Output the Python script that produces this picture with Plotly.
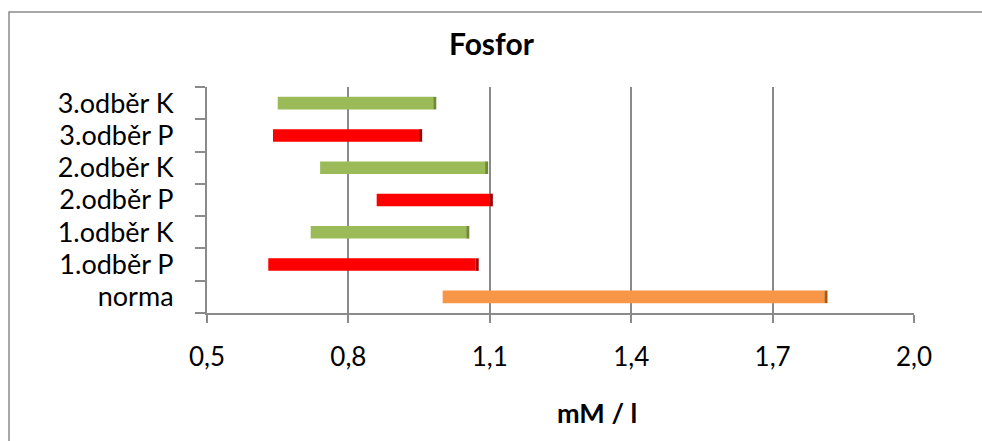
import plotly.graph_objects as go

# Phosphorus ranges (mM / l) per sampling
categories = ["norma", "1.odběr P", "1.odběr K", "2.odběr P", "2.odběr K", "3.odběr P", "3.odběr K"]
low_values = [1.00, 0.63, 0.72, 0.86, 0.74, 0.64, 0.65]
high_values = [1.81, 1.07, 1.05, 1.10, 1.09, 0.95, 0.98]
x_tick_values = [0.5, 0.8, 1.1, 1.4, 1.7, 2.0]
x_tick_labels = ["0,5", "0,8", "1,1", "1,4", "1,7", "2,0"]

W, H = 982, 441
ML, MR, MT, MB = 207, 68, 87, 128
PW, PH = W - ML - MR, H - MT - MB
FONT = "Lato"


def px_x(px):
    return (px - ML) / PW


def px_y(py):
    return (H - MB - py) / PH


def face_colour(name):
    if name == "norma":
        return "#F79646"
    return "#FF0000" if name.endswith("P") else "#9BBB59"


def side_colour(name):
    if name == "norma":
        return "#B65708"
    return "#A00000" if name.endswith("P") else "#6F8A35"


lengths = [h - l for l, h in zip(low_values, high_values)]
BAR_W = 0.39
DEPTH = 0.0065

fig = go.Figure()
fig.add_trace(go.Bar(
    y=categories, x=lengths, base=low_values, orientation="h",
    width=BAR_W, marker=dict(color=[face_colour(c) for c in categories], line=dict(width=0)),
    showlegend=False, hoverinfo="skip",
))
# narrow darker strip at the right end of each bar
fig.add_trace(go.Bar(
    y=categories, x=[DEPTH] * len(categories), base=high_values, orientation="h",
    width=BAR_W, marker=dict(color=[side_colour(c) for c in categories], line=dict(width=0)),
    showlegend=False, hoverinfo="skip",
))

grey = "#8a8a8a"
fig.update_layout(
    width=W, height=H,
    margin=dict(l=ML, r=MR, t=MT, b=MB, autoexpand=False),
    paper_bgcolor="white", plot_bgcolor="white",
    barmode="overlay",
    font=dict(family=FONT, color="black"),
    xaxis=dict(
        range=[0.5, 2.0], tickmode="array", tickvals=x_tick_values, ticktext=x_tick_labels,
        showgrid=True, gridcolor=grey, gridwidth=2,
        showline=True, linecolor=grey, linewidth=2,
        ticks="outside", ticklen=8, tickwidth=2, tickcolor=grey,
        tickfont=dict(size=26, family=FONT), ticklabelstandoff=12,
        zeroline=False, fixedrange=True,
    ),
    yaxis=dict(
        type="category", categoryorder="array", categoryarray=categories,
        range=[-0.5, len(categories) - 0.5],
        showgrid=False, showline=True, linecolor=grey, linewidth=2,
        ticks="outside", tickson="boundaries", ticklen=10, tickwidth=2, tickcolor=grey,
        tickfont=dict(size=27, family=FONT), ticklabelstandoff=26,
        fixedrange=True,
    ),
    shapes=[
        dict(type="rect", xref="paper", yref="paper",
             x0=px_x(9), x1=px_x(995), y0=px_y(460), y1=px_y(12),
             line=dict(color="#8c8c8c", width=1.5), fillcolor="rgba(0,0,0,0)", layer="below"),
    ],
    annotations=[
        dict(text="<b>Fosfor</b>", xref="paper", yref="paper", x=px_x(492), y=px_y(43),
             xanchor="center", yanchor="middle", showarrow=False,
             font=dict(size=30, family=FONT, color="black")),
        dict(text="<b>mM / l</b>", xref="paper", yref="paper", x=px_x(597), y=px_y(412),
             xanchor="center", yanchor="middle", showarrow=False,
             font=dict(size=27, family=FONT, color="black")),
    ],
)

fig.write_html("out.html")
